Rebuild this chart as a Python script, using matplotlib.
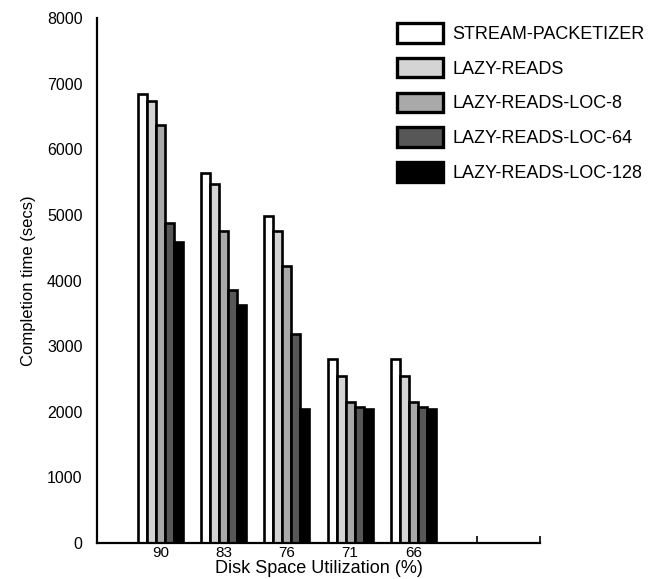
import numpy as np
import matplotlib
matplotlib.use("Agg")
from matplotlib import pyplot as plt

plt.rcParams['font.family'] = ['Liberation Sans', 'DejaVu Sans']

# disk space utilization (%) groups
utilizacao = ['90', '83', '76', '71', '66']
series = ['STREAM-PACKETIZER', 'LAZY-READS', 'LAZY-READS-LOC-8',
          'LAZY-READS-LOC-64', 'LAZY-READS-LOC-128']
cores = ['#ffffff', '#d4d4d4', '#a9a9a9', '#575757', '#000000']

# completion times (secs), one list per series
stream_packetizer = [6840, 5640, 4990, 2810, 2810]
lazy_reads = [6730, 5470, 4750, 2540, 2540]
lazy_loc8 = [6370, 4750, 4220, 2150, 2150]
lazy_loc64 = [4870, 3860, 3190, 2070, 2070]
lazy_loc128 = [4580, 3620, 2050, 2050, 2050]
valores = [stream_packetizer, lazy_reads, lazy_loc8, lazy_loc64, lazy_loc128]

fig = plt.figure(figsize=(6.48, 5.79), dpi=100)
ax = fig.add_axes([0.150, 0.062, 0.683, 0.907])

x = np.arange(1, len(utilizacao) + 1)
w = 0.142
for i, (nome, cor, v) in enumerate(zip(series, cores, valores)):
    ax.bar(x + (i - 2) * w, v, width=w, color=cor, edgecolor='black',
           linewidth=1.9, label=nome, zorder=2)

ax.set_xlim(0, 7)
ax.set_ylim(0, 8000)
ax.set_xticks(np.arange(1, 8))
ax.set_xticklabels(utilizacao + ['', ''], fontsize=11)
ax.set_yticks(np.arange(0, 8001, 1000))
ax.tick_params(axis='y', length=0, pad=10.5, labelsize=11.5)
ax.tick_params(axis='x', direction='in', length=5, width=1.2, pad=2)
for lado in ['top', 'right']:
    ax.spines[lado].set_visible(False)
for lado in ['left', 'bottom']:
    ax.spines[lado].set_linewidth(1.6)

ax.set_xlabel('Disk Space Utilization (%)', fontsize=13, labelpad=0)
ax.set_ylabel('Completion time (secs)', fontsize=12, labelpad=8)

leg = ax.legend(loc='upper left', bbox_to_anchor=(0.662, 1.004), frameon=False,
                fontsize=13, handlelength=2.5, handleheight=1.28,
                labelspacing=0.83, handletextpad=0.55, borderaxespad=0)
for h in leg.legend_handles:
    h.set_linewidth(2.4)

plt.savefig('out.png', dpi=100)
